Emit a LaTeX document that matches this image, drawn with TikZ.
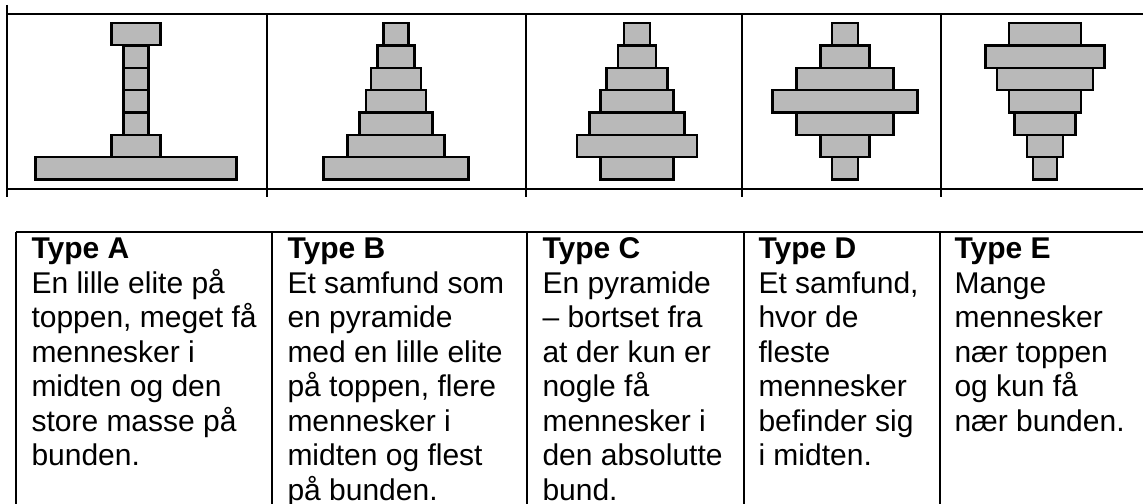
\documentclass[tikz,border=0pt]{standalone}
\usepackage{fontspec}
\setmainfont{Liberation Sans}
\usetikzlibrary{positioning}

\begin{document}
\begin{tikzpicture}[x=0.4pt, y=-0.4pt,
    bar/.style={draw, line width=0.9pt, fill=gray!55, inner sep=0pt, minimum height=8.94pt},
    cell/.style={anchor=north west, align=left, inner sep=0pt, font=\fontsize{12}{13.8}\selectfont},
    grid/.style={line width=0.8pt},
    ]
    \useasboundingbox (0,0) rectangle (1143,504);

    % Top table
    \draw[grid] (7,5) -- (7,197);
    \draw[grid] (7,14) -- (1143,14);
    \draw[grid] (7,189) -- (1143,189);
    \foreach \x in {267,526,742,941}
      \draw[grid] (\x,14) -- (\x,197);

    % Type A
    \foreach \w [count=\i] in {49,25,25,25,25,49,201}
      \node[bar, minimum width=\w*0.4pt] (barA\i) at (136,{34.2+(\i-1)*22.36}) {};

    % Type B
    \foreach \w [count=\i] in {25,37,50,60,73,97,145}
      \node[bar, minimum width=\w*0.4pt] (barB\i) at (396,{34.2+(\i-1)*22.36}) {};

    % Type C
    \foreach \w [count=\i] in {26,38,61,73,95,120,73}
      \node[bar, minimum width=\w*0.4pt] (barC\i) at (637,{34.2+(\i-1)*22.36}) {};

    % Type D
    \foreach \w [count=\i] in {26,49,97,145,97,49,26}
      \node[bar, minimum width=\w*0.4pt] (barD\i) at (845,{34.2+(\i-1)*22.36}) {};

    % Type E
    \foreach \w [count=\i] in {72,119,96,72,61,36,24}
      \node[bar, minimum width=\w*0.4pt] (barE\i) at (1045,{34.2+(\i-1)*22.36}) {};

    % Bottom table
    \draw[grid] (16,232) -- (1143,232);
    \foreach \x in {16,272,527,744,940}
      \draw[grid] (\x,232) -- (\x,504);

    % Descriptions
    \node[cell] (typeA) at (31,237.5) {\textbf{Type A}\\En lille elite på\\toppen, meget få\\mennesker i\\midten og den\\store masse på\\bunden.};
    \node[cell] (typeB) at (287,237.5) {\textbf{Type B}\\Et samfund som\\en pyramide\\med en lille elite\\på toppen, flere\\mennesker i\\midten og flest\\på bunden.};
    \node[cell] (typeC) at (542,237.5) {\textbf{Type C}\\En pyramide\\– bortset fra\\at der kun er\\nogle få\\mennesker i\\den absolutte\\bund.};
    \node[cell] (typeD) at (758,237.5) {\textbf{Type D}\\Et samfund,\\hvor de\\fleste\\mennesker\\befinder sig\\i midten.};
    \node[cell] (typeE) at (954,237.5) {\textbf{Type E}\\Mange\\mennesker\\nær toppen\\og kun få\\nær bunden.};
  \end{tikzpicture}
\end{document}
